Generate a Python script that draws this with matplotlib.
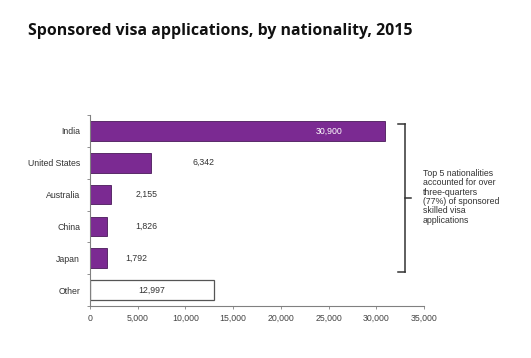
import matplotlib
matplotlib.use("Agg")
import matplotlib.pyplot as plt
from matplotlib.ticker import FuncFormatter, FixedLocator

categories = ["India", "United States", "Australia", "China", "Japan", "Other"]
values = [30900, 6342, 2155, 1826, 1792, 12997]
value_labels = ["30,900", "6,342", "2,155", "1,826", "1,792", "12,997"]
xticks = [0, 5000, 10000, 15000, 20000, 25000, 30000, 35000]
title = "Sponsored visa applications, by nationality, 2015"
note = "Top 5 nationalities\naccounted for over\nthree-quarters\n(77%) of sponsored\nskilled visa\napplications"

purple = "#7b2a92"
edge = "#4a1a5a"
grey = "#808080"

fig = plt.figure(figsize=(5.31, 3.58), dpi=100)
ax = fig.add_axes([90/531, 1-306/358, 334/531, 191/358])

ypos = list(range(len(categories)))
for i, (c, v) in enumerate(zip(categories, values)):
    if c == "Other":
        ax.barh(i, v, height=0.62, color="white", edgecolor="#555555", linewidth=0.9)
    else:
        ax.barh(i, v, height=0.62, color=purple, edgecolor=edge, linewidth=0.6)

lab_font = dict(family="Liberation Sans", fontsize=6.3)
# India: inside, white
ax.annotate(value_labels[0], (values[0], 0), xytext=(-40, 0), textcoords="offset points",
            ha="center", va="center", color="white", **lab_font)
offsets = [30, 18, 20, 13]
for i in range(1, 5):
    ax.annotate(value_labels[i], (values[i], i), xytext=(offsets[i-1], 0), textcoords="offset points",
                ha="left", va="center", color="#333333", **lab_font)
ax.text(values[5] / 2, 5, value_labels[5], ha="center", va="center", color="#333333", **lab_font)

ax.set_xlim(0, 35000)
ax.set_ylim(5.5, -0.5)
ax.set_yticks(ypos)
ax.set_yticklabels(categories, **lab_font, color="#333333")
ax.yaxis.set_minor_locator(FixedLocator([-0.5, 0.5, 1.5, 2.5, 3.5, 4.5, 5.5]))
ax.tick_params(axis="y", which="major", length=0, pad=7)
ax.tick_params(axis="y", which="minor", length=2.5, color=grey, width=0.6)
ax.set_xticks(xticks)
ax.xaxis.set_major_formatter(FuncFormatter(lambda v, p: f"{int(v):,}"))
ax.tick_params(axis="x", length=2.5, color=grey, width=0.6, labelsize=6.3, labelcolor="#444444", pad=3)
for lbl in ax.get_xticklabels():
    lbl.set_family("Liberation Sans")
for s in ["top", "right"]:
    ax.spines[s].set_visible(False)
for s in ["left", "bottom"]:
    ax.spines[s].set_color(grey)
    ax.spines[s].set_linewidth(0.8)

# bracket (figure pixel coords)
def px(x, y):
    return (x/531, 1-y/358)
br = dict(color="#333333", linewidth=1.1, transform=fig.transFigure)
fig.add_artist(plt.Line2D([px(405,124)[0], px(405,272)[0]], [px(405,124)[1], px(405,272)[1]], **br))
fig.add_artist(plt.Line2D([px(398,124)[0], px(405,124)[0]], [px(398,124)[1], px(405,124)[1]], **br))
fig.add_artist(plt.Line2D([px(398,272)[0], px(405,272)[0]], [px(398,272)[1], px(405,272)[1]], **br))
fig.add_artist(plt.Line2D([px(405,198)[0], px(411,198)[0]], [px(405,198)[1], px(411,198)[1]], **br))

fig.text(423/531, 1-169/358, note, ha="left", va="top", fontsize=6.3,
         family="Liberation Sans", color="#333333", linespacing=1.05)

fig.text(28/531, 1-31/358, title, ha="left", va="center", fontsize=11.4,
         fontweight="bold", family="Open Sans", color="#111111")

fig.savefig("out.png", dpi=100, facecolor="white")
